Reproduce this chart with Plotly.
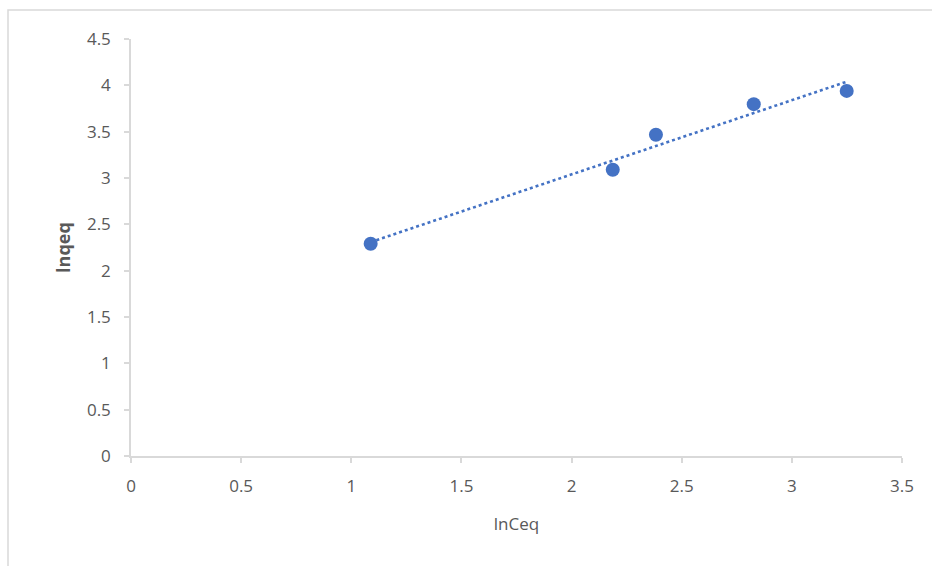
import numpy as np
import plotly.graph_objects as go

# Isotherm data (natural logs)
ln_ceq = [1.088, 2.187, 2.383, 2.827, 3.249]
ln_qeq = [2.29, 3.089, 3.466, 3.797, 3.94]

x_ticks = [0, 0.5, 1, 1.5, 2, 2.5, 3, 3.5]
y_ticks = [0, 0.5, 1, 1.5, 2, 2.5, 3, 3.5, 4, 4.5]

BLUE = "#4472C4"
AXIS_GREY = "#d9d9d9"
TEXT_GREY = "#595959"
FONT = "Open Sans, Noto Sans, sans-serif"

# Linear trendline (least squares) across the measured range
slope, intercept = np.polyfit(ln_ceq, ln_qeq, 1)
fit_x = [min(ln_ceq), max(ln_ceq)]
fit_y = [slope * v + intercept for v in fit_x]

W, H = 932, 566
L, R, T, B = 131, 30, 39, 110

fig = go.Figure()
fig.add_trace(go.Scatter(
    x=fit_x, y=fit_y, mode="lines",
    line=dict(color=BLUE, width=2.6, dash="dot"),
    hoverinfo="skip", showlegend=False,
))
fig.add_trace(go.Scatter(
    x=ln_ceq, y=ln_qeq, mode="markers",
    marker=dict(color=BLUE, size=14, line=dict(width=0)),
    showlegend=False,
))

axis_common = dict(
    showgrid=False, zeroline=False,
    showline=True, linecolor=AXIS_GREY, linewidth=1.5,
    ticks="outside", ticklen=5, tickcolor=AXIS_GREY, tickwidth=1.5,
    tickfont=dict(family=FONT, size=17, color=TEXT_GREY),
)

fig.update_xaxes(
    range=[0, 3.5], tickvals=x_ticks, ticktext=[f"{v:g}" for v in x_ticks],
    ticklabelstandoff=9,
    title=dict(text="lnCeq", font=dict(family=FONT, size=17, color=TEXT_GREY), standoff=22),
    **axis_common,
)
fig.update_yaxes(
    range=[0, 4.5], tickvals=y_ticks, ticktext=[f"{v:g}" for v in y_ticks],
    ticklabelstandoff=10,
    title=dict(text="<b>lnqeq</b>", font=dict(family=FONT, size=18, color=TEXT_GREY), standoff=12),
    **axis_common,
)

pw = W - L - R
ph = H - T - B
# Chart frame outline
fig.add_shape(
    type="rect", xref="paper", yref="paper",
    x0=(8 - L) / pw, x1=(W + 5 - L) / pw,
    y0=(H - B - (H + 5)) / ph, y1=(H - B - 10) / ph,
    line=dict(color=AXIS_GREY, width=1.5), fillcolor="rgba(0,0,0,0)", layer="below",
)

fig.update_layout(
    width=W, height=H,
    margin=dict(l=L, r=R, t=T, b=B),
    paper_bgcolor="white", plot_bgcolor="white",
    font=dict(family=FONT, color=TEXT_GREY),
)

fig.write_html("out.html")
